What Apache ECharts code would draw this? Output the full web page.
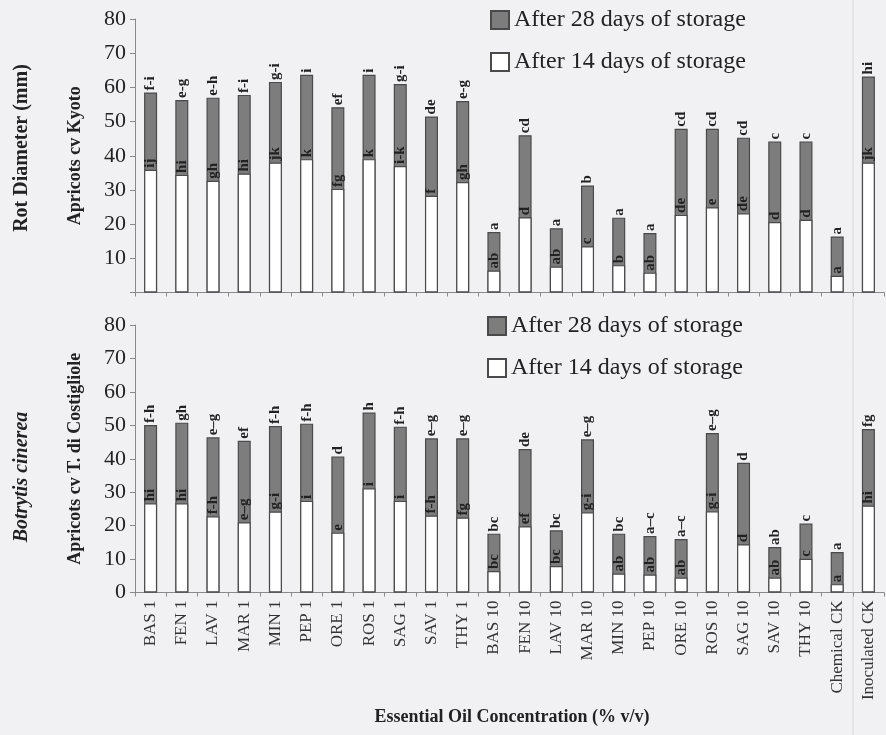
<!DOCTYPE html>
<html>
<head>
<meta charset="utf-8">
<script src="https://cdn.jsdelivr.net/npm/echarts@6/dist/echarts.min.js"></script>
<style>html,body{margin:0;padding:0;background:#f1f1f3;}#c{width:886px;height:735px;}</style>
</head>
<body>
<div id="c"></div>
<script>
const categories = ['BAS 1','FEN 1','LAV 1','MAR 1','MIN 1','PEP 1','ORE 1','ROS 1','SAG 1','SAV 1','THY 1','BAS 10','FEN 10','LAV 10','MAR 10','MIN 10','PEP 10','ORE 10','ROS 10','SAG 10','SAV 10','THY 10','Chemical CK','Inoculated CK'];
const seriesNames = ['After 28 days of storage', 'After 14 days of storage'];
const yTicks = [0,10,20,30,40,50,60,70,80];

const kyoto28 = [58.5,56.3,57.0,57.8,61.6,63.7,54.2,63.7,61.0,51.5,56.0,17.7,46.0,18.8,31.3,21.9,17.4,47.9,47.9,45.3,44.2,44.2,16.4,63.2];
const kyoto14 = [35.9,34.4,32.7,34.8,38.0,39.0,30.3,39.0,37.0,28.3,32.3,6.4,22.0,7.6,13.5,8.0,5.8,22.7,24.9,23.2,20.6,21.3,4.9,38.0];
const cost28 = [50.1,50.8,46.4,45.4,49.8,50.5,40.7,53.8,49.6,46.1,46.1,17.6,42.9,18.6,45.8,17.6,16.9,16.0,47.7,38.8,13.6,20.6,12.1,48.9];
const cost14 = [26.7,26.7,22.8,21.0,24.2,27.4,17.9,31.2,27.4,23.0,22.4,6.4,19.8,7.9,24.0,5.7,5.4,4.5,24.3,14.4,4.5,10.1,2.5,26.0];

const kyoto28Letters = ['f-i','e-g','e-h','f-i','g-i','i','ef','i','g-i','de','e-g','a','cd','a','b','a','a','cd','cd','cd','c','c','a','hi'];
const kyoto14Letters = ['ij','hi','gh','hi','jk','k','fg','k','i-k','f','gh','ab','d','ab','c','b','ab','de','e','de','d','d','a','jk'];
const cost28Letters = ['f-h','gh','e–g','ef','f-h','f-h','d','h','f-h','e–g','e–g','bc','de','bc','e–g','bc','a–c','a–c','e–g','d','ab','c','a','fg'];
const cost14Letters = ['hi','hi','f-h','e–g','g-i','i','e','i','i','f-h','fg','bc','ef','bc','g-i','ab','ab','ab','g-i','d','ab','c','a','hi'];

const SERIF = 'Liberation Serif';
const GREY = '#7d7d7d';
const BORDER = '#4a4a4a';

function lbl(letters) {
  return {
    show: true, position: 'top', distance: 2, rotate: 90,
    align: 'left', verticalAlign: 'middle',
    fontFamily: SERIF, fontWeight: 'bold', fontSize: 15, color: '#222',
    formatter: p => letters[p.dataIndex]
  };
}
function bar(name, data, color, axis, letters) {
  return {
    name: name, type: 'bar', data: data, xAxisIndex: axis, yAxisIndex: axis,
    barWidth: 13, barGap: '-100%',
    itemStyle: { color: color, borderColor: BORDER, borderWidth: 1.2 },
    label: lbl(letters), z: color === GREY ? 2 : 3
  };
}
function yAx(grid, name, hideZero) {
  return {
    type: 'value', gridIndex: grid, min: yTicks[0], max: yTicks[yTicks.length-1], interval: 10,
    splitLine: { show: false },
    axisLine: { show: true, lineStyle: { color: '#8a8a8a', width: 1 } },
    axisTick: { show: true, length: 5, lineStyle: { color: '#8a8a8a' } },
    axisLabel: { fontFamily: SERIF, fontSize: 22, color: '#222', margin: 9,
      formatter: v => (hideZero && v === 0) ? '' : String(v) },
    name: name, nameLocation: 'middle', nameRotate: 90, nameGap: 51,
    nameTextStyle: { fontFamily: SERIF, fontWeight: 'bold', fontSize: 18, color: '#222' }
  };
}
function xAx(grid, showLabels) {
  return {
    type: 'category', gridIndex: grid, data: categories,
    axisLine: { show: true, lineStyle: { color: '#8a8a8a', width: 1 } },
    axisTick: { show: true, length: 4, lineStyle: { color: '#8a8a8a' } },
    axisLabel: { show: showLabels, rotate: 90, interval: 0, margin: 8,
      fontFamily: SERIF, fontSize: 17, color: '#333' }
  };
}
function leg(top, left) {
  return {
    top: top, left: left, orient: 'vertical', itemGap: 18,
    itemWidth: 18, itemHeight: 18, icon: 'rect',
    data: seriesNames,
    textStyle: { fontFamily: SERIF, fontSize: 24, color: '#222' },
    selectedMode: false
  };
}

const chart = echarts.init(document.getElementById('c'), null, { renderer: 'canvas' });
chart.setOption({
  backgroundColor: '#f1f1f3',
  animation: false,
  grid: [
    { left: 135, right: 2, top: 19, height: 273.5 },
    { left: 135, right: 2, top: 325, height: 267.5 }
  ],
  legend: [leg(3, 485), leg(309, 482)],
  xAxis: [xAx(0, false), xAx(1, true)],
  yAxis: [yAx(0, 'Apricots cv Kyoto', true), yAx(1, 'Apricots cv T. di Costigliole', false)],
  series: [
    bar(seriesNames[0], kyoto28, GREY, 0, kyoto28Letters),
    bar(seriesNames[1], kyoto14, '#ffffff', 0, kyoto14Letters),
    bar(seriesNames[0], cost28, GREY, 1, cost28Letters),
    bar(seriesNames[1], cost14, '#ffffff', 1, cost14Letters)
  ],
  graphic: [
    { type: 'line', shape: { x1: 853, y1: 0, x2: 853, y2: 735 }, style: { stroke: '#dcd4dc', lineWidth: 1 }, z: 0 },
    { type: 'text', x: 22, y: 148, rotation: Math.PI / 2,
      style: { text: 'Rot Diameter (mm)', font: 'bold 20px "Liberation Serif"', fill: '#222', align: 'center', verticalAlign: 'middle', textAlign: 'center', textVerticalAlign: 'middle' } },
    { type: 'text', x: 22, y: 477, rotation: Math.PI / 2,
      style: { text: 'Botrytis cinerea', font: 'italic bold 20px "Liberation Serif"', fill: '#222', align: 'center', verticalAlign: 'middle', textAlign: 'center', textVerticalAlign: 'middle' } },
    { type: 'text', x: 512, y: 717,
      style: { text: 'Essential Oil Concentration (% v/v)', font: 'bold 18px "Liberation Serif"', fill: '#222', align: 'center', verticalAlign: 'middle', textAlign: 'center', textVerticalAlign: 'middle' } }
  ]
});
</script>
</body>
</html>
